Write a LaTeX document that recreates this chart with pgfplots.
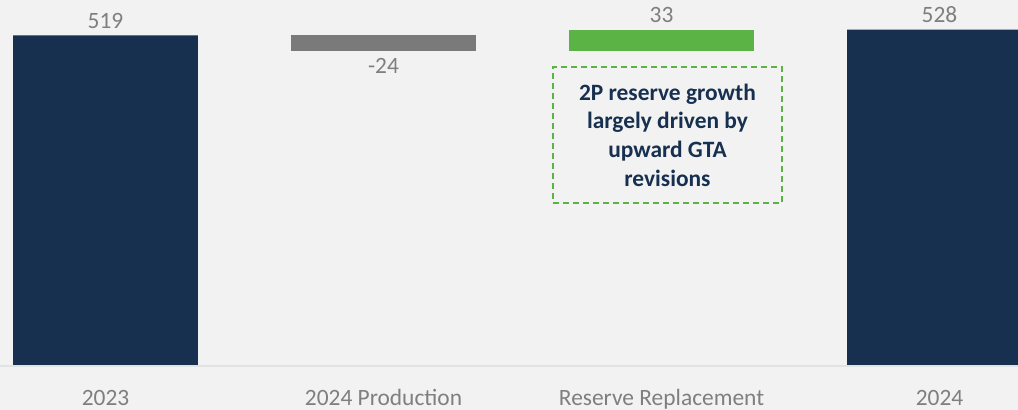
\documentclass[border=0pt]{standalone}
\usepackage{pgfplots}
\pgfplotsset{compat=1.18}
\usepackage{fontspec}
\setmainfont{Carlito}

\definecolor{navy}{HTML}{17304F}
\definecolor{prodgray}{HTML}{7A7A7A}
\definecolor{repgreen}{HTML}{5BB346}
\definecolor{txtgray}{HTML}{7F7F7F}
\definecolor{bgc}{HTML}{F2F2F2}
\definecolor{basecol}{HTML}{E2E2E2}

\tikzset{vlabel/.style={anchor=base, inner sep=0pt, text=txtgray,
        font=\fontsize{23.5}{28}\selectfont}}

\begin{document}
\begin{tikzpicture}
\begin{axis}[
    name=ax,
    scale only axis,
    width=1018bp,
    height=410bp,
    xmin=-0.3795, xmax=3.2824,
    ymin=-70.9, ymax=574.8,
    ybar stacked,
    bar width=185bp,
    axis background/.style={fill=bgc},
    axis line style={draw=none},
    tick style={draw=none},
    ytick=\empty,
    xtick={0,1,2,3},
    xticklabels={2023, 2024 Production, Reserve Replacement, 2024},
    xticklabel style={anchor=base, yshift=4bp, inner sep=0pt,
        font=\fontsize{23.5}{28}\selectfont, text=txtgray},
    extra y ticks={-1.5},
    extra y tick labels={},
    extra y tick style={grid=major, major grid style={draw=basecol, line width=1.5bp}},
]
% invisible base of the floating bars
\addplot[draw=none, fill=none] coordinates {(0,0) (1,495) (2,495) (3,0)};
% totals
\addplot[draw=none, fill=navy] coordinates {(0,519) (1,0) (2,0) (3,528)};
% production
\addplot[draw=none, fill=prodgray] coordinates {(0,0) (1,24) (2,0) (3,0)};
% reserve replacement
\addplot[draw=none, fill=repgreen] coordinates {(0,0) (1,0) (2,33) (3,0)};

\node[vlabel, yshift=6.5bp] at (axis cs:0,519) {519};
\node[vlabel, yshift=-23bp] at (axis cs:1,495) {-24};
\node[vlabel, yshift=7bp] at (axis cs:2,528) {33};
\node[vlabel, yshift=7bp] at (axis cs:3,528) {528};

\node[draw=repgreen, line width=1.75bp, dash pattern=on 6bp off 4bp,
      minimum width=229bp, minimum height=136bp, inner sep=0pt,
      align=center, text=navy, font=\bfseries\fontsize{23.5}{28.7}\selectfont]
  at (axis cs:2.0216,362.2)
  {2P reserve growth\\largely driven by\\upward GTA\\revisions};
\end{axis}
\pgfresetboundingbox
\path[use as bounding box] (ax.south west) rectangle (ax.north east);
\end{tikzpicture}
\end{document}
